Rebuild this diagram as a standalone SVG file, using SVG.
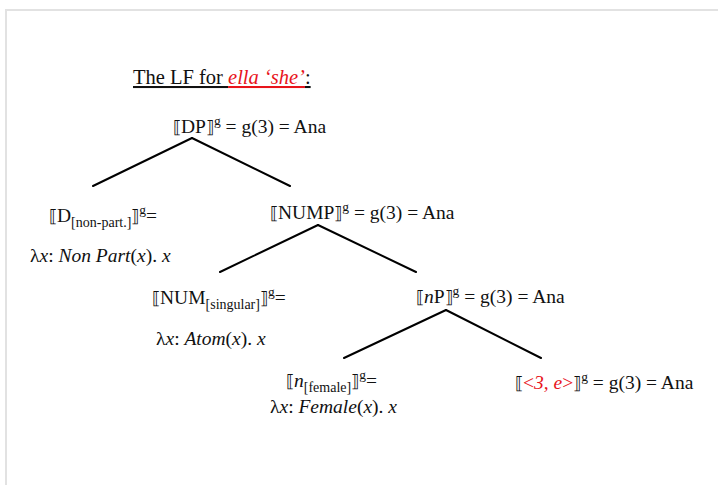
<svg xmlns="http://www.w3.org/2000/svg" width="718" height="485" viewBox="0 0 718 485">
  <defs>
    <style>
      text { font-family: "Liberation Serif", "DejaVu Serif", serif; font-size: 19.5px; fill: #111; }
      .title { font-size: 20.5px; }
      .it { font-style: italic; }
      .red { fill: #e8141b; }
      .sup { font-size: 13.5px; }
      .sub { font-size: 14px; }
      .br { font-family: "DejaVu Serif", serif; font-size: 17px; }
      .edge { stroke: #000; stroke-width: 2; fill: none; stroke-linecap: round; }
    </style>
  </defs>
  <!-- page -->
  <rect x="0" y="0" width="718" height="485" fill="#fff"/>
  <rect x="6" y="10" width="730" height="500" fill="none" stroke="#e2e2e2" stroke-width="2"/>

  <!-- title -->
  <text class="title" x="133" y="84"><tspan text-decoration="underline">The LF for </tspan><tspan class="it red" text-decoration="underline">ella ‘she’</tspan><tspan text-decoration="underline">:</tspan></text>

  <g id="connectors">
    <line class="edge" x1="192" y1="138" x2="93" y2="186"/>
    <line class="edge" x1="192" y1="138" x2="290" y2="186"/>
    <line class="edge" x1="318" y1="225" x2="220" y2="272"/>
    <line class="edge" x1="318" y1="225" x2="416" y2="272"/>
    <line class="edge" x1="446" y1="310" x2="344" y2="358"/>
    <line class="edge" x1="446" y1="310" x2="541" y2="358"/>
  </g>

  <g id="dp">
    <text x="173" y="133"><tspan class="br">⟦</tspan>DP<tspan class="br">⟧</tspan><tspan class="sup" dy="-8">g</tspan><tspan dy="8"> = g(3) = Ana</tspan></text>
  </g>

  <g id="d-nonpart">
    <text x="49" y="222"><tspan class="br">⟦</tspan>D<tspan class="sub" dy="5">[non-part.]</tspan><tspan class="br" dy="-5">⟧</tspan><tspan class="sup" dy="-8">g</tspan><tspan dy="8">=</tspan></text>
    <text x="30" y="262">λ<tspan class="it">x</tspan>: <tspan class="it">Non Part</tspan>(<tspan class="it">x</tspan>). <tspan class="it">x</tspan></text>
  </g>

  <g id="nump">
    <text x="270" y="219"><tspan class="br">⟦</tspan>NUMP<tspan class="br">⟧</tspan><tspan class="sup" dy="-8">g</tspan><tspan dy="8"> = g(3) = Ana</tspan></text>
  </g>

  <g id="num-singular">
    <text x="152" y="304"><tspan class="br">⟦</tspan>NUM<tspan class="sub" dy="5">[singular]</tspan><tspan class="br" dy="-5">⟧</tspan><tspan class="sup" dy="-8">g</tspan><tspan dy="8">=</tspan></text>
    <text x="156" y="345">λ<tspan class="it">x</tspan>: <tspan class="it">Atom</tspan>(<tspan class="it">x</tspan>). <tspan class="it">x</tspan></text>
  </g>

  <g id="np">
    <text x="416" y="303"><tspan class="br">⟦</tspan><tspan class="it">n</tspan>P<tspan class="br">⟧</tspan><tspan class="sup" dy="-8">g</tspan><tspan dy="8"> = g(3) = Ana</tspan></text>
  </g>

  <g id="n-female">
    <text x="286" y="387"><tspan class="br">⟦</tspan><tspan class="it">n</tspan><tspan class="sub" dy="5">[female]</tspan><tspan class="br" dy="-5">⟧</tspan><tspan class="sup" dy="-8">g</tspan><tspan dy="8">=</tspan></text>
    <text x="270" y="413">λ<tspan class="it">x</tspan>: <tspan class="it">Female</tspan>(<tspan class="it">x</tspan>). <tspan class="it">x</tspan></text>
  </g>

  <g id="index-3e">
    <text x="515" y="389"><tspan class="br">⟦</tspan><tspan class="red">&lt;</tspan><tspan class="it red">3, e</tspan><tspan class="red">&gt;</tspan><tspan class="br">⟧</tspan><tspan class="sup" dy="-8">g</tspan><tspan dy="8"> = g(3) = Ana</tspan></text>
  </g>
</svg>
